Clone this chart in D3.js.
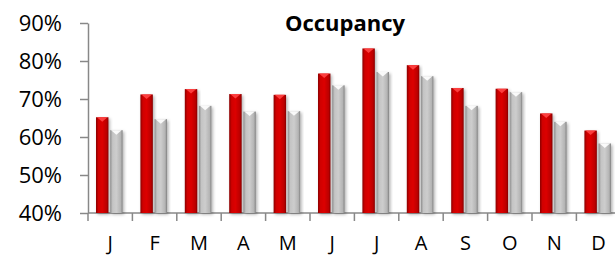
<!DOCTYPE html>
<html>
<head>
<meta charset="utf-8">
<script src="https://cdn.jsdelivr.net/npm/d3@7"></script>
<style>
    body { margin: 0; background: #fff; }
    svg { display: block; }
</style>
</head>
<body>
<svg id="chart" width="615" height="255"></svg>
<script>
const months = ['J', 'F', 'M', 'A', 'M', 'J', 'J', 'A', 'S', 'O', 'N', 'D'];
const seriesNames = ['current', 'previous'];
const currentYear = [65.2, 71.2, 72.6, 71.3, 71.1, 76.7, 83.3, 78.9, 72.9, 72.7, 66.2, 61.7];
const previousYear = [61.8, 64.7, 68.2, 66.7, 66.8, 73.6, 77.1, 76.0, 68.2, 71.8, 64.0, 58.3];
const yTicks = [40, 50, 60, 70, 80, 90];

const svg = d3.select('#chart');
const plotLeft = 88;
const plotTop = 23;
const plotBottom = 213;
const step = 44.4;

// month index as domain (labels repeat)
const x = d3.scaleBand()
    .domain(d3.range(months.length))
    .range([plotLeft, plotLeft + step * months.length])
    .padding(0);

const xInner = d3.scaleBand()
    .domain(seriesNames)
    .range([8, 34.6])
    .paddingInner(0.12);

const y = d3.scaleLinear().domain([40, 90]).range([plotBottom, plotTop]);

const defs = svg.append('defs');

function hGradient(id, stops) {
    const g = defs.append('linearGradient').attr('id', id)
        .attr('x1', 0).attr('x2', 1).attr('y1', 0).attr('y2', 0);
    stops.forEach(s => g.append('stop').attr('offset', s[0]).attr('stop-color', s[1]));
}
hGradient('redGrad', [[0, '#8a0000'], [0.2, '#d00000'], [0.5, '#dc0000'], [0.85, '#bb0000'], [1, '#850000']]);
hGradient('grayGrad', [[0, '#8e8e8e'], [0.2, '#c4c4c4'], [0.5, '#cdcdcd'], [0.85, '#b4b4b4'], [1, '#808080']]);

const shadow = defs.append('filter').attr('id', 'shadow')
    .attr('x', '-30%').attr('y', '-10%').attr('width', '160%').attr('height', '130%');
shadow.append('feDropShadow').attr('dx', 1.5).attr('dy', 1.5).attr('stdDeviation', 1.5)
    .attr('flood-color', '#000').attr('flood-opacity', 0.3);

const series = [
    { key: 'current', values: currentYear, fill: 'url(#redGrad)', cap: '#ff4545' },
    { key: 'previous', values: previousYear, fill: 'url(#grayGrad)', cap: '#ffffff' }
];

// axes
const yAxis = d3.axisLeft(y).tickValues(yTicks).tickSize(8).tickSizeOuter(0)
    .tickFormat(d => d + '%');
const yg = svg.append('g').attr('transform', `translate(${plotLeft},0)`).call(yAxis);
yg.select('.domain').attr('stroke', '#888').attr('stroke-width', 1.5);
yg.selectAll('.tick line').attr('stroke', '#888').attr('stroke-width', 1.5);
yg.selectAll('.tick text')
    .attr('x', -26)
    .attr('font-family', 'Open Sans')
    .attr('font-size', 22)
    .attr('fill', '#000');

const xg = svg.append('g').attr('transform', `translate(0,${plotBottom})`);
xg.append('line').attr('x1', plotLeft).attr('x2', x.range()[1])
    .attr('stroke', '#888').attr('stroke-width', 1.5);
xg.selectAll('.xtick')
    .data(d3.range(months.length + 1))
    .join('line')
    .attr('class', 'xtick')
    .attr('x1', i => plotLeft + i * x.step())
    .attr('x2', i => plotLeft + i * x.step())
    .attr('y1', 0).attr('y2', 8)
    .attr('stroke', '#888').attr('stroke-width', 1.5);
xg.selectAll('.xlabel')
    .data(months)
    .join('text')
    .attr('class', 'xlabel')
    .attr('x', (d, i) => x(i) + x.bandwidth() / 2)
    .attr('y', 37)
    .attr('text-anchor', 'middle')
    .attr('font-family', 'Open Sans')
    .attr('font-size', 20)
    .attr('fill', '#000')
    .text(d => d);

// bars
series.forEach(s => {
    const g = svg.append('g').attr('class', 'series-' + s.key);
    const bw = xInner.bandwidth();
    const cols = g.selectAll('g')
        .data(s.values)
        .join('g')
        .attr('transform', (d, i) => `translate(${x(i) + xInner(s.key)},0)`);
    cols.append('rect')
        .attr('x', 0)
        .attr('y', d => y(d))
        .attr('width', bw)
        .attr('height', d => y(40) - y(d))
        .attr('fill', s.fill)
        .attr('filter', 'url(#shadow)');
    cols.append('path')
        .attr('d', d => `M1,${y(d)}L${bw - 1},${y(d)}L${bw / 2},${y(d) + 4.5}Z`)
        .attr('fill', s.cap)
        .attr('opacity', 0.9);
});

// title
svg.append('text')
    .attr('x', 345)
    .attr('y', 31)
    .attr('text-anchor', 'middle')
    .attr('font-family', 'Open Sans')
    .attr('font-weight', 'bold')
    .attr('font-size', 22)
    .attr('fill', '#000')
    .text('Occupancy');
</script>
</body>
</html>
